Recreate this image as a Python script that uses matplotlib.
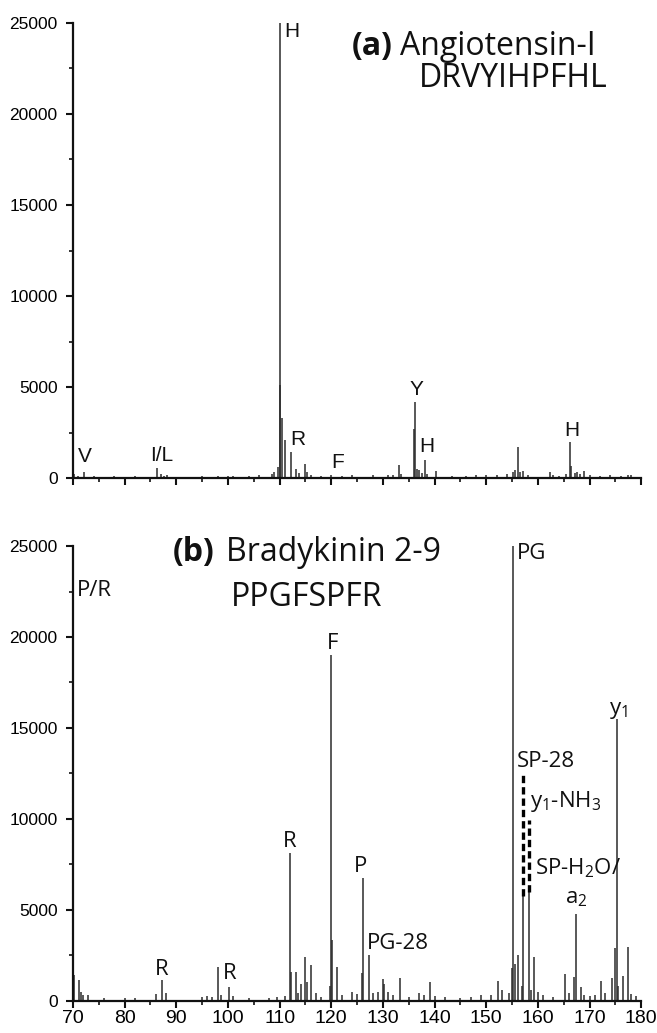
import matplotlib
matplotlib.use("Agg")
import matplotlib.pyplot as plt
from matplotlib.ticker import MultipleLocator

# ---------------- data: panel (a) Angiotensin-I ----------------
mz_a = [70.3, 71.0, 72.1, 74.0, 78.0, 82.0, 86.2, 87.0, 87.6, 88.2, 95.0, 98.0, 100.0, 101.0,
        104.0, 106.0, 108.5, 109.0, 109.7, 110.0, 110.1, 110.5, 111.1, 112.3, 113.2, 113.8,
        115.0, 115.3, 116.0, 118.0, 120.0, 122.0, 124.0, 128.0, 131.0, 132.0, 133.1, 133.5,
        136.0, 136.2, 136.6, 137.0, 137.5, 138.1, 138.6, 140.2, 143.3, 146.0, 148.0, 150.0,
        152.0, 154.0, 155.2, 155.6, 156.1, 156.5, 157.2, 158.0, 162.3, 163.0, 164.0, 165.5,
        166.2, 166.4, 167.1, 167.6, 168.2, 169.0, 170.0, 172.0, 174.0, 176.0, 177.5, 178.0]
int_a = [250, 150, 350, 120, 100, 120, 570, 250, 150, 160, 120, 150, 130, 150,
         130, 160, 250, 350, 620, 25000, 5100, 3300, 2090, 1450, 500, 300,
         800, 350, 200, 150, 200, 150, 180, 160, 180, 200, 750, 250,
         2730, 4190, 500, 450, 300, 990, 250, 400, 150, 120, 160, 180,
         200, 250, 350, 450, 1690, 350, 400, 200, 350, 200, 150, 250,
         2000, 700, 300, 350, 250, 400, 200, 150, 200, 150, 200, 180]

# ---------------- data: panel (b) Bradykinin 2-9 ----------------
mz_b = [70.0, 70.2, 71.1, 71.5, 72.0, 73.0, 76.0, 80.0, 82.0, 86.0, 87.2, 88.1, 95.0, 96.0,
        97.0, 98.1, 98.6, 100.2, 101.0, 104.0, 108.0, 109.5, 111.0, 112.1, 112.3, 113.1,
        113.6, 114.2, 115.0, 115.3, 116.1, 117.0, 118.0, 119.8, 120.0, 120.2, 121.2, 122.0,
        124.0, 125.0, 126.0, 126.2, 127.3, 128.0, 129.0, 130.0, 130.3, 131.0, 132.0, 133.3,
        135.0, 137.0, 138.0, 139.2, 140.0, 142.0, 145.0, 147.0, 149.0, 151.0, 152.3, 153.0,
        154.5, 155.0, 155.2, 155.5, 156.2, 157.0, 157.2, 158.2, 158.6, 159.2, 160.0, 161.0,
        163.0, 165.3, 166.0, 167.0, 167.3, 168.3, 169.0, 170.0, 171.0, 172.3, 173.0, 174.3,
        175.0, 175.3, 175.6, 176.4, 177.4, 178.0, 179.0]
int_b = [22300, 1400, 1140, 500, 300, 300, 150, 150, 120, 350, 1140, 400, 200, 250,
         200, 1870, 300, 770, 250, 150, 150, 200, 250, 8120, 1600, 1600,
         400, 900, 2420, 1000, 1970, 400, 200, 800, 19000, 3340, 1840, 300,
         500, 350, 1500, 6730, 2500, 400, 500, 1170, 900, 500, 300, 1230,
         200, 400, 300, 1020, 250, 200, 150, 200, 300, 300, 1100, 600,
         400, 1800, 25000, 2000, 2500, 800, 5760, 5950, 600, 2400, 500, 300,
         200, 1470, 400, 1300, 4770, 750, 300, 250, 300, 1100, 400, 1250,
         2900, 15500, 800, 1350, 2970, 350, 250]

# ---------------- figure ----------------
LABFONT_B = 'Open Sans'
plt.rcParams['mathtext.fontset'] = 'custom'
plt.rcParams['mathtext.rm'] = LABFONT_B
plt.rcParams['mathtext.it'] = LABFONT_B

W, H, DPI = 6.57, 10.33, 100
fig = plt.figure(figsize=(W, H), dpi=DPI)
ax_a = fig.add_axes([0.111, 0.537, 0.865, 0.441])
ax_b = fig.add_axes([0.111, 0.0313, 0.865, 0.4401])

TICKFONT = 'Liberation Sans'
LABFONT_A = 'Liberation Sans'
stem_color = '#2b2b2b'

for ax in (ax_a, ax_b):
    ax.set_xlim(70, 180)
    ax.set_ylim(0, 25000)
    for s in ('top', 'right'):
        ax.spines[s].set_visible(False)
    for s in ('left', 'bottom'):
        ax.spines[s].set_linewidth(1.6)
        ax.spines[s].set_color('#111111')
    ax.xaxis.set_major_locator(MultipleLocator(10))
    ax.xaxis.set_minor_locator(MultipleLocator(5))
    ax.yaxis.set_major_locator(MultipleLocator(5000))
    ax.yaxis.set_minor_locator(MultipleLocator(2500))
    ax.tick_params(which='major', direction='out', length=5, width=1.5, color='#111111')
    ax.tick_params(which='minor', direction='out', length=3, width=1.2, color='#111111')
    ax.tick_params(axis='y', labelsize=12.5, pad=6)
    for lab in ax.get_yticklabels():
        lab.set_fontfamily(TICKFONT)

ax_a.tick_params(axis='x', labelbottom=False)
ax_b.tick_params(axis='x', labelsize=14, pad=2)
for lab in ax_b.get_xticklabels():
    lab.set_fontfamily(TICKFONT)

ax_a.vlines(mz_a, 0, int_a, color=stem_color, linewidth=1.1)
ax_b.vlines(mz_b, 0, int_b, color=stem_color, linewidth=1.1)

# ---------------- panel (a) labels ----------------
la = dict(fontfamily=LABFONT_A, fontsize=15, ha='center', va='center', color='#111111')
ax_a.text(112.4, 24520, 'H', **la)
ax_a.text(72.3, 1170, 'V', **la)
ax_a.text(87.2, 1260, 'I/L', **la)
ax_a.text(113.5, 2130, 'R', **la)
ax_a.text(121.2, 860, 'F', **la)
ax_a.text(136.4, 4870, 'Y', **la)
ax_a.text(138.5, 1720, 'H', **la)
ax_a.text(166.5, 2600, 'H', **la)

tt = dict(fontfamily=LABFONT_B, fontsize=23, color='#111111', va='center')
ax_a.text(131.9, 23700, '(a)', fontweight='bold', ha='right', **tt)
ax_a.text(133.3, 23700, 'Angiotensin-I', ha='left', **tt)
ax_a.text(155.2, 21950, 'DRVYIHPFHL', ha='center', **tt)

# ---------------- panel (b) labels ----------------
lb = dict(fontfamily=LABFONT_B, fontsize=16, color='#111111')
ax_b.text(70.8, 22570, 'P/R', ha='left', va='center', **lb)
ax_b.text(87.2, 1740, 'R', ha='center', va='center', **lb)
ax_b.text(100.4, 1470, 'R', ha='center', va='center', **lb)
ax_b.text(111.9, 8740, 'R', ha='center', va='center', **lb)
ax_b.text(120.2, 19640, 'F', ha='center', va='center', **lb)
ax_b.text(125.7, 7360, 'P', ha='center', va='center', **lb)
ax_b.text(126.8, 3150, 'PG-28', ha='left', va='center', **lb)
ax_b.text(156.0, 24600, 'PG', ha='left', va='center', **lb)
ax_b.text(175.5, 15970, r'y$_1$', ha='center', va='center', **lb)
ax_b.text(156.0, 13130, 'SP-28', ha='left', va='center', **lb)
ax_b.text(158.4, 10940, r'y$_1$-NH$_3$', ha='left', va='center', **lb)
ax_b.text(159.4, 7280, r'SP-H$_2$O/', ha='left', va='center', **lb)
ax_b.text(167.5, 5630, r'a$_2$', ha='center', va='center', **lb)

# dashed connectors from peaks to labels
ax_b.plot([157.2, 157.2], [5760, 12400], color='black', linestyle=(0, (2.2, 1.2)), linewidth=2.4)
ax_b.plot([158.2, 158.2], [5950, 9950], color='black', linestyle=(0, (2.2, 1.2)), linewidth=2.4)

ax_b.text(97.4, 24650, '(b)', fontweight='bold', ha='right', **tt)
ax_b.text(99.7, 24650, 'Bradykinin 2-9', ha='left', **tt)
ax_b.text(115.3, 22150, 'PPGFSPFR', ha='center', **tt)

fig.savefig('out.png', dpi=DPI)
